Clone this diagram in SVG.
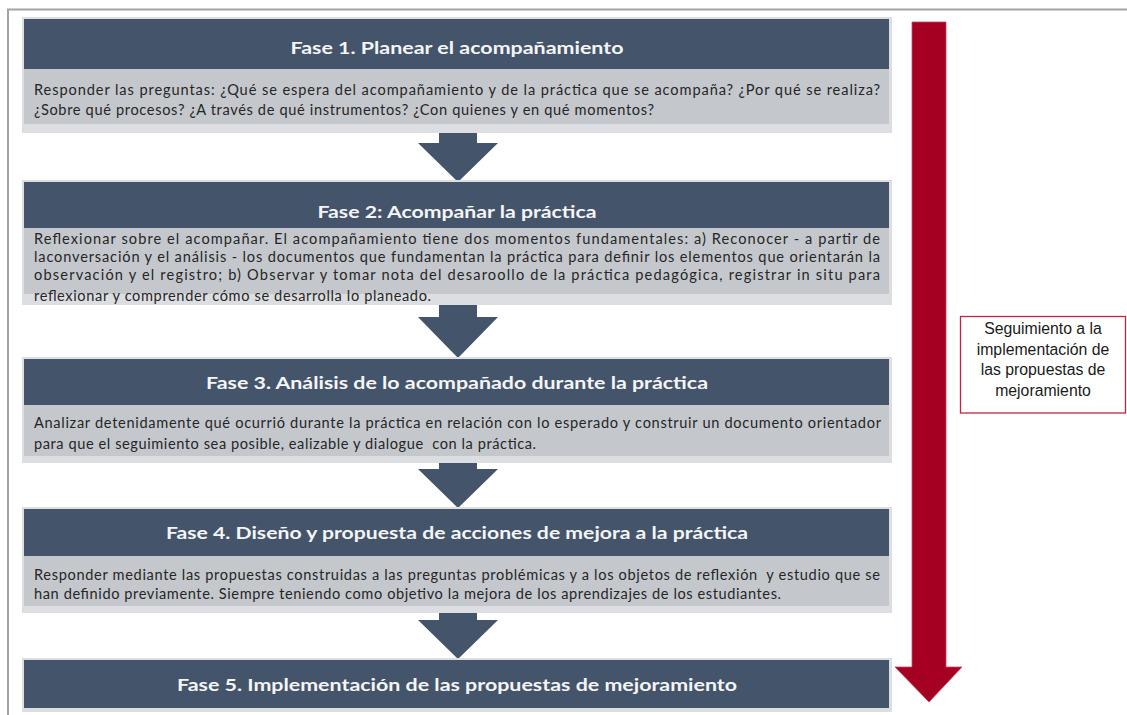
<svg xmlns="http://www.w3.org/2000/svg" width="1127" height="715" viewBox="0 0 1127 715">
<style>
.band{fill:#dcdee1}
.hdr{fill:#44546a}
.body{fill:#c4c8cd}
.ht{font-family:Lato,"Open Sans",sans-serif;font-weight:bold;font-size:17.5px;fill:#f4f5f7;text-anchor:middle}
.bt{font-family:Lato,"Open Sans",sans-serif;font-size:14.6px;fill:#262626}
.arr{fill:#44546a}
.lbl{font-family:"Liberation Sans",Arial,sans-serif;font-size:15.8px;fill:#1a1a1a;text-anchor:middle}
</style>
<rect width="1127" height="715" fill="#ffffff"/>
<g id="frame" fill="none" stroke="#a3a3a3" stroke-width="2">
<line x1="7" y1="9.5" x2="1127" y2="9.5"/>
<line x1="8" y1="9" x2="8" y2="715"/>
</g>
<g id="connectors">
<polygon class="arr" points="439,131 477,131 477,143 498,143 458,182 418,143 439,143"/>
<rect x="439" y="124" width="38" height="9" class="body"/>
<polygon class="arr" points="439,303 477,303 477,317 498,317 458,358 418,317 439,317"/>
<rect x="439" y="294" width="38" height="11" class="body"/>
<polygon class="arr" points="439,461 477,461 477,469 498,469 458,508 418,469 439,469"/>
<rect x="439" y="456" width="38" height="7" class="body"/>
<polygon class="arr" points="439,611 477,611 477,620 498,620 458,659 418,620 439,620"/>
<rect x="439" y="606" width="38" height="7" class="body"/>
<polygon points="912,22 946,22 946,667 962,667 929,702 895,667 912,667" fill="#a50021" stroke="#c4485f" stroke-width="0.8"/>
</g>
<g id="fase1">
<rect x="22" y="17" width="870" height="116" class="band"/>
<rect x="24" y="19" width="865" height="50" class="hdr"/>
<rect x="24" y="69" width="865" height="55" class="body"/>
<text class="ht" x="457" y="54" textLength="333" lengthAdjust="spacingAndGlyphs">Fase 1. Planear el acompañamiento</text>
<text class="bt" x="34" y="95" textLength="846" lengthAdjust="spacing">Responder las preguntas: ¿Qué se espera del acompañamiento y de la práctica que se acompaña? ¿Por qué se realiza?</text>
<text class="bt" x="34" y="115" textLength="620" lengthAdjust="spacing">¿Sobre qué procesos? ¿A través de qué instrumentos? ¿Con quienes y en qué momentos?</text>
</g>
<g id="fase2">
<rect x="22" y="180" width="870" height="125" class="band"/>
<rect x="24" y="182" width="865" height="46" class="hdr"/>
<rect x="24" y="228" width="865" height="66" class="body"/>
<text class="ht" x="457" y="218" textLength="279" lengthAdjust="spacingAndGlyphs">Fase 2: Acompañar la práctica</text>
<text class="bt" x="34" y="244" textLength="846" lengthAdjust="spacing">Reflexionar sobre el acompañar. El acompañamiento tiene dos momentos fundamentales: a) Reconocer - a partir de</text>
<text class="bt" x="34" y="262" textLength="846" lengthAdjust="spacing">laconversación y el análisis - los documentos que fundamentan la práctica para definir los elementos que orientarán la</text>
<text class="bt" x="34" y="280" textLength="846" lengthAdjust="spacing">observación y el registro; b) Observar y tomar nota del desaroollo de la práctica pedagógica, registrar in situ para</text>
<text class="bt" x="34" y="301" textLength="397" lengthAdjust="spacing">reflexionar y comprender cómo se desarrolla lo planeado.</text>
</g>
<g id="fase3">
<rect x="22" y="357" width="870" height="106" class="band"/>
<rect x="24" y="359" width="865" height="46" class="hdr"/>
<rect x="24" y="405" width="865" height="51" class="body"/>
<text class="ht" x="457" y="389" textLength="502" lengthAdjust="spacingAndGlyphs">Fase 3. Análisis de lo acompañado durante la práctica</text>
<text class="bt" x="34" y="428" textLength="847" lengthAdjust="spacing">Analizar detenidamente qué ocurrió durante la práctica en relación con lo esperado y construir un documento orientador</text>
<text class="bt" x="34" y="449" textLength="502" lengthAdjust="spacing" xml:space="preserve">para que el seguimiento sea posible, ealizable y dialogue  con la práctica.</text>
</g>
<g id="fase4">
<rect x="22" y="507" width="870" height="106" class="band"/>
<rect x="24" y="509" width="865" height="47" class="hdr"/>
<rect x="24" y="556" width="865" height="50" class="body"/>
<text class="ht" x="457" y="539" textLength="582" lengthAdjust="spacingAndGlyphs">Fase 4. Diseño y propuesta de acciones de mejora a la práctica</text>
<text class="bt" x="34" y="580" textLength="846" lengthAdjust="spacing" xml:space="preserve">Responder mediante las propuestas construidas a las preguntas problémicas y a los objetos de reflexión  y estudio que se</text>
<text class="bt" x="34" y="599" textLength="747" lengthAdjust="spacing">han definido previamente. Siempre teniendo como objetivo la mejora de los aprendizajes de los estudiantes.</text>
</g>
<g id="fase5">
<rect x="22" y="658" width="870" height="54" class="band"/>
<rect x="24" y="660" width="865" height="48" class="hdr"/>
<text class="ht" x="457" y="691" textLength="560" lengthAdjust="spacingAndGlyphs">Fase 5. Implementación de las propuestas de mejoramiento</text>
</g>
<g id="seguimiento">
<rect x="960.5" y="316.5" width="165" height="96.5" fill="#ffffff" stroke="#c0263f" stroke-width="1.3"/>
<text class="lbl" x="1043" y="334">Seguimiento a la</text>
<text class="lbl" x="1043" y="355">implementación de</text>
<text class="lbl" x="1043" y="375">las propuestas de</text>
<text class="lbl" x="1043" y="396">mejoramiento</text>
</g>
</svg>
